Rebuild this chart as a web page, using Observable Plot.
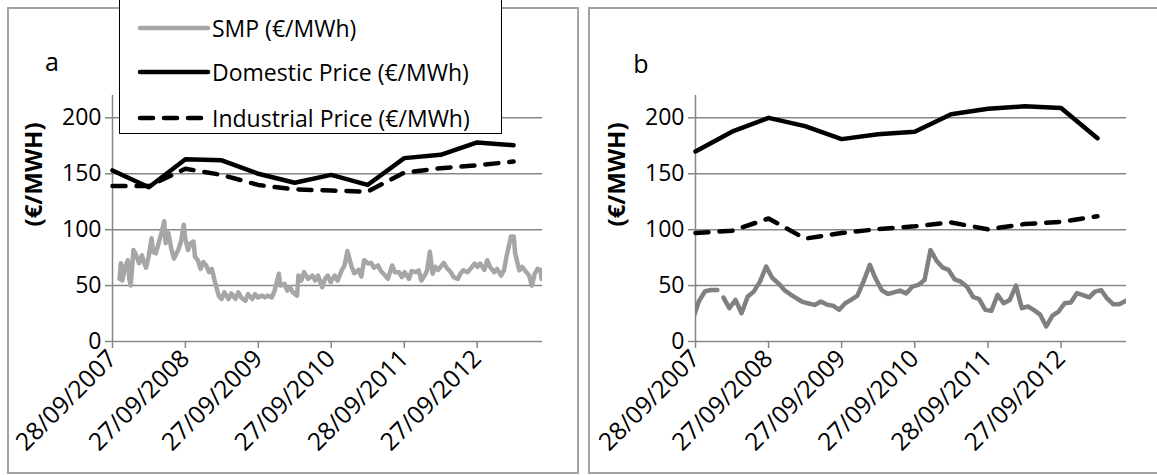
<!DOCTYPE html>
<html><head><meta charset="utf-8">
<script src="https://cdn.jsdelivr.net/npm/d3@7"></script>
<script src="https://cdn.jsdelivr.net/npm/@observablehq/plot@0.6"></script>
<style>
body{margin:0;background:#fff;}
#fig{position:relative;width:1157px;height:475px;overflow:hidden;background:#fff;font-family:"Open Sans",sans-serif;color:#000;}
.frame{position:absolute;border:2px solid #a3a3a3;box-sizing:border-box;}
.panel{position:absolute;top:0;}
.tag{position:absolute;font-size:25px;line-height:1;transform:translate(-50%,-50%);}
#legend{position:absolute;left:119px;top:-3px;width:383px;height:137px;border:1.5px solid #000;background:#fff;box-sizing:border-box;z-index:5;}
.sw{position:absolute;left:17px;transform:translateY(-50%);}
.lt{position:absolute;left:92px;font-size:23px;line-height:1;transform:translateY(-50%);white-space:nowrap;}
</style></head><body>
<div id="fig">
  <div class="frame" style="left:7px;top:7px;width:572px;height:467px;"></div>
  <div class="frame" style="left:588px;top:7px;width:600px;height:467px;"></div>
  <div id="pa" class="panel" style="left:0;"></div>
  <div id="pb" class="panel" style="left:583px;"></div>
  <div class="tag" style="left:52px;top:61px;">a</div>
  <div class="tag" style="left:641px;top:63px;">b</div>
  <div id="legend"></div>
</div>
<script>
// ---- data ----
const tickDates = ["2007-09-28","2008-09-27","2009-09-27","2010-09-27","2011-09-28","2012-09-27"];
const xDomain = ["2007-09-28","2013-08-20"];
const yTicks = [0, 50, 100, 150, 200];
const yMax = 220;

const priceDates = ["2007-09-28","2008-03-28","2008-09-27","2009-03-28","2009-09-27","2010-03-28","2010-09-27","2011-03-28","2011-09-28","2012-03-28","2012-09-27","2013-03-28"];
const domesticA   = [153, 138, 163, 162, 150, 142, 149, 140, 164, 167, 178, 175.5];
const industrialA = [139, 139, 154.5, 149, 140, 136, 135, 134, 151, 155, 157.5, 161];
const domesticB   = [170, 187.6, 200, 192.6, 181, 185.3, 187.6, 203.2, 208.2, 210.3, 208.8, 181.8];
const industrialB = [97, 99, 110, 92, 97, 100.5, 103, 106.5, 100.3, 105, 107, 112];

// SMP panel a: week number since 28/09/2007, value
const smpAWeek = [5,6,7,9,11,12,13,15,17,19,21,22,24,26,28,29,31,33,35,37,38,40,42,44,47,49,51,52,54,56,58,59,61,63,65,67,69,71,73,76,78,80,83,85,88,90,92,95,97,100,102,104,107,109,111,114,116,119,120,123,125,127,129,132,133,135,137,140,143,145,147,150,152,154,156,159,161,164,166,168,171,173,176,178,180,183,185,187,190,192,195,197,200,202,205,207,209,212,214,217,219,221,224,225,227,229,231,233,237,239,242,244,247,249,251,254,256,259,261,263,266,268,270,273,275,278,280,282,285,287,288,291,293,296,298,300,302,304,306,307];
const smpAValue = [56,70,54.5,66.7,72.7,56,50,81.8,77,70,77,72.7,66,77,92.4,80.3,78.8,87.9,97,107.6,87.9,97,83.3,74.2,81.8,89.4,104.5,92.4,81.8,87.9,89.4,75.8,72.7,65,71,68,62,65,54.5,40.9,37.9,44,37.9,43,38,44,39.4,36.4,42.4,38,42.4,39.4,41,39.4,41,39.4,45.5,60.6,50,51.5,45.5,48.5,44,41,59,54.5,62,56,59,54.5,59,48.5,56,59,53,59,54.5,63.6,68,81,67,61,64,58,72.7,69.7,70.3,66,68,63,59,56,68,62,62,57.6,62,56,63,62,63.6,54.5,60.6,63.6,80.3,60.6,66.7,64,70.3,66,62,57.6,56,61,63.6,62,65,69.7,66.7,69.7,64,72.7,66.7,62,65,59,63.6,77,94,94,78.8,63.6,66.7,62,59,50,60.6,65,64,56];

// SMP panel b: monthly values (15th of each month from 09/2007)
const smpBMonths = ["2007-09","2007-10","2007-11","2007-12","2008-01","2008-02","2008-03","2008-04","2008-05","2008-06","2008-07","2008-08","2008-09","2008-10","2008-11","2008-12","2009-01","2009-02","2009-03","2009-04","2009-05","2009-06","2009-07","2009-08","2009-09","2009-10","2009-11","2009-12","2010-01","2010-02","2010-03","2010-04","2010-05","2010-06","2010-07","2010-08","2010-09","2010-10","2010-11","2010-12","2011-01","2011-02","2011-03","2011-04","2011-05","2011-06","2011-07","2011-08","2011-09","2011-10","2011-11","2011-12","2012-01","2012-02","2012-03","2012-04","2012-05","2012-06","2012-07","2012-08","2012-09","2012-10","2012-11","2012-12","2013-01","2013-02","2013-03","2013-04","2013-05","2013-06","2013-07","2013-08"];
const smpBValue = [20,36,45,46,46,39.3,29.8,37.2,25.3,40.2,44.6,53.6,67,57,52,46,42,38.5,35.5,34,32.7,35.7,33,32,28.3,34.2,37.5,41,54,68.5,56.5,46,42.5,44,45.5,43,49,50.6,55,81.8,72,66,64,55.5,53.5,49,40,38,28.3,27.4,41.7,34.2,37.2,50,29.8,31.3,28,24,13.4,23.2,26.8,34.2,34.8,43.2,41.5,39.5,44.6,46,38.5,33.3,33.3,36.3];
const smpBBreakAfter = "2008-01"; // line is interrupted after this month

const legendItems = ["SMP (€/MWh)", "Domestic Price (€/MWh)", "Industrial Price (€/MWh)"];
const yTitle = "(€/MWH)";

// ---- build ----
const parse = d3.utcParse("%Y-%m-%d");
const fmt = d3.utcFormat("%d/%m/%Y");
const start = parse(xDomain[0]);
const smpA = smpAWeek.map((w, i) => ({date: d3.utcDay.offset(start, 7 * w), value: smpAValue[i], seg: 1}));
const smpB = smpBMonths.map((m, i) => ({date: parse(m + "-15"), value: smpBValue[i], seg: m <= smpBBreakAfter ? 1 : 2}));
const priceRows = (vals) => priceDates.map((d, i) => ({date: parse(d), value: vals[i]}));

const GRID = "#878787";
function panel(smp, smpColor, dom, ind, width, marginRight) {
  return Plot.plot({
    width, height: 475,
    marginLeft: 112, marginRight, marginTop: 95, marginBottom: 134,
    style: {fontFamily: "'Open Sans', sans-serif", fontSize: "23px", color: "#000", background: "transparent", overflow: "visible"},
    x: {type: "utc", domain: xDomain.map(parse)},
    y: {domain: [0, yMax]},
    marks: [
      Plot.ruleY(yTicks.filter(v => v > 0), {stroke: GRID, strokeWidth: 1.5}),
      Plot.ruleY([0], {stroke: GRID, strokeWidth: 1.5}),
      Plot.ruleX([start], {stroke: GRID, strokeWidth: 1.5}),
      Plot.axisY({ticks: yTicks, tickSize: 7, tickPadding: 4, stroke: GRID, strokeWidth: 1.5, label: null}),
      Plot.axisX({ticks: tickDates.map(parse), tickSize: 7, tickPadding: 6, tickFormat: fmt, tickRotate: -45, fontSize: 24.5, stroke: GRID, strokeWidth: 1.5, label: null}),
      Plot.line(smp, {x: "date", y: "value", z: "seg", stroke: smpColor, strokeWidth: 4.5, clip: true}),
      Plot.line(priceRows(dom), {x: "date", y: "value", stroke: "#000", strokeWidth: 4.5}),
      Plot.line(priceRows(ind), {x: "date", y: "value", stroke: "#000", strokeWidth: 4.5, strokeDasharray: "13,11", strokeLinecap: "round"}),
      Plot.text([yTitle], {frameAnchor: "left", rotate: -90, dx: -78, dy: 8, fontWeight: "bold", fontSize: 24})
    ]
  });
}

document.getElementById("pa").append(panel(smpA, "#a6a6a6", domesticA, industrialA, 578, 36));
document.getElementById("pb").append(panel(smpB, "#808080", domesticB, industrialB, 574, 31));

// legend
const lg = document.getElementById("legend");
const legendStyles = [
  {stroke: "#a6a6a6", dash: null},
  {stroke: "#000", dash: null},
  {stroke: "#000", dash: "13,11"}
];
const legendY = [30, 74, 120];
legendItems.forEach((t, i) => {
  const s = legendStyles[i];
  const sw = document.createElement("div");
  sw.className = "sw";
  sw.style.top = legendY[i] + "px";
  sw.innerHTML = `<svg width="74" height="10" style="display:block"><line x1="3" x2="71" y1="5" y2="5" stroke="${s.stroke}" stroke-width="4.5" stroke-linecap="round" ${s.dash ? `stroke-dasharray="${s.dash}"` : ""}/></svg>`;
  lg.append(sw);
  const tx = document.createElement("div");
  tx.className = "lt";
  tx.style.top = legendY[i] + "px";
  tx.textContent = t;
  lg.append(tx);
});
</script>
</body></html>
